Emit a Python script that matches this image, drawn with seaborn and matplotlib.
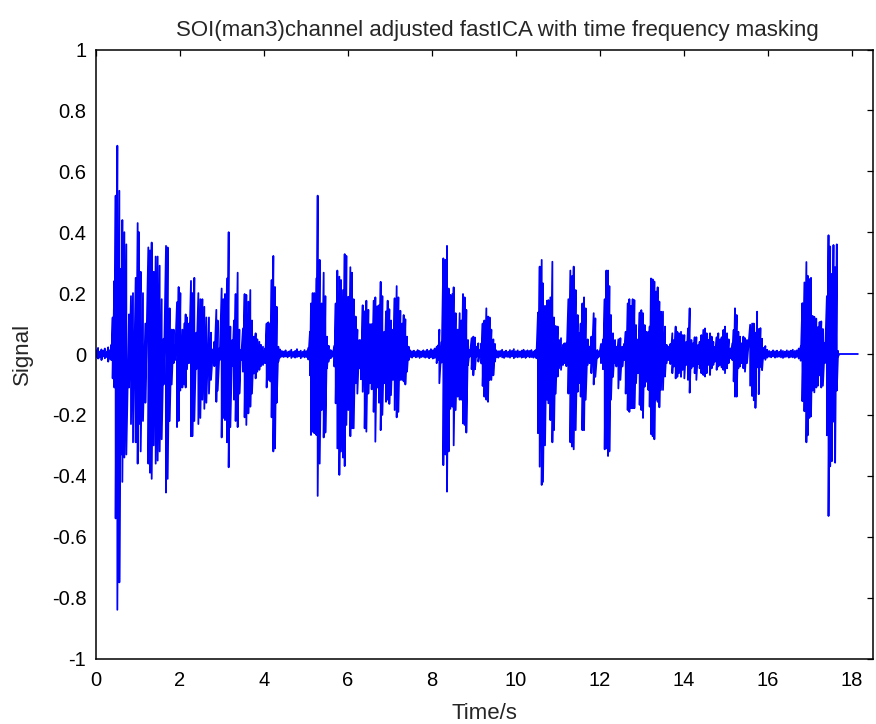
import matplotlib
matplotlib.use("Agg")
import numpy as np
import pandas as pd
import seaborn as sns
import matplotlib.pyplot as plt

# ---------------- data (time in s, signal peaks) ----------------
# quiet start
t_a = [0.010, 0.050, 0.090, 0.130, 0.170, 0.210, 0.250, 0.290, 0.330, 0.365]
hi_a = [0.012, 0.020, 0.008, 0.015, 0.010, 0.018, 0.006, 0.022, 0.012, 0.030]
lo_a = [-0.010, -0.015, -0.012, -0.020, -0.008, -0.014, -0.010, -0.025, -0.015, -0.020]

# burst 1
t_b = [0.397, 0.437, 0.468, 0.508, 0.556, 0.595, 0.627, 0.675, 0.722, 0.786, 0.833, 0.881, 0.945, 0.992,
       1.024, 1.064, 1.119, 1.175, 1.246, 1.286, 1.326, 1.373, 1.421, 1.468, 1.516, 1.564, 1.611, 1.667,
       1.706, 1.754, 1.802, 1.849, 1.881, 1.929, 1.968, 2.008, 2.056, 2.103, 2.135, 2.167, 2.214, 2.262,
       2.294, 2.341, 2.389, 2.437, 2.484, 2.532, 2.579, 2.627, 2.690, 2.738, 2.786, 2.817, 2.865, 2.897,
       2.944, 2.992, 3.032, 3.071, 3.119, 3.159, 3.198, 3.246, 3.286, 3.325, 3.373, 3.413, 3.452, 3.500,
       3.539, 3.579, 3.627, 3.674, 3.714, 3.762, 3.801, 3.841, 3.889, 3.928, 3.976, 4.024, 4.063, 4.103,
       4.151, 4.182, 4.222, 4.262, 4.302, 4.341]
hi_b = [0.12, 0.24, 0.52, 0.684, 0.536, 0.28, 0.44, 0.40, 0.36, 0.13, 0.19, 0.20, 0.25, 0.43,
        0.40, 0.27, 0.20, 0.10, 0.35, 0.34, 0.366, 0.27, 0.32, 0.32, 0.29, 0.18, 0.05, 0.355,
        0.35, 0.15, 0.08, 0.08, 0.03, 0.17, 0.22, 0.20, 0.08, 0.10, 0.13, 0.12, 0.10, 0.24,
        0.20, 0.25, 0.07, 0.20, 0.18, 0.18, 0.155, 0.12, 0.12, 0.07, 0.015, 0.04, 0.145, 0.11,
        0.02, 0.215, 0.18, 0.197, 0.248, 0.40, 0.09, 0.046, 0.11, 0.197, 0.267, 0.08, 0.013, 0.084,
        0.197, 0.194, 0.172, 0.21, 0.11, 0.057, 0.068, 0.048, 0.04, 0.03, 0.024, 0.018, 0.10, 0.104,
        0.10, 0.243, 0.322, 0.22, 0.155, 0.024]
lo_b = [-0.08, -0.11, -0.54, -0.84, -0.75, -0.33, -0.42, -0.34, -0.33, -0.11, -0.23, -0.29, -0.29, -0.36,
        -0.23, -0.32, -0.22, -0.16, -0.36, -0.39, -0.41, -0.30, -0.36, -0.35, -0.32, -0.28, -0.10, -0.455,
        -0.41, -0.22, -0.10, -0.03, -0.02, -0.24, -0.22, -0.12, -0.11, -0.10, -0.11, -0.05, -0.03, -0.27,
        -0.27, -0.22, -0.05, -0.23, -0.21, -0.15, -0.18, -0.16, -0.13, -0.085, -0.015, -0.04, -0.157, -0.12,
        -0.02, -0.274, -0.21, -0.217, -0.29, -0.372, -0.24, -0.04, -0.15, -0.22, -0.24, -0.13, -0.02, -0.058,
        -0.208, -0.233, -0.195, -0.173, -0.13, -0.064, -0.08, -0.058, -0.052, -0.04, -0.036, -0.03, -0.11, -0.085,
        -0.09, -0.208, -0.32, -0.31, -0.16, -0.025]

# quiet 2
t_c = [4.380, 4.425, 4.470, 4.515, 4.560, 4.605, 4.650, 4.695, 4.740, 4.785, 4.830, 4.875, 4.920, 4.965, 5.010, 5.055]
hi_c = [0.015, 0.010, 0.008, 0.012, 0.006, 0.009, 0.014, 0.007, 0.010, 0.016, 0.008, 0.011, 0.007, 0.013, 0.009, 0.020]
lo_c = [-0.012, -0.009, -0.010, -0.008, -0.011, -0.007, -0.013, -0.009, -0.012, -0.010, -0.008, -0.014, -0.009, -0.011, -0.010, -0.018]

# burst 2
t_d = [5.095, 5.119, 5.159, 5.199, 5.246, 5.278, 5.326, 5.373, 5.421, 5.461, 5.500, 5.540, 5.588, 5.627,
       5.675, 5.707, 5.746, 5.794, 5.834, 5.881, 5.921, 5.961, 6.008, 6.056, 6.095, 6.135, 6.183, 6.223,
       6.270, 6.310, 6.350, 6.397, 6.437, 6.484, 6.524, 6.564, 6.611, 6.651, 6.699, 6.738, 6.778, 6.818,
       6.865, 6.905, 6.945, 6.984, 7.024, 7.072, 7.111, 7.159, 7.199, 7.246, 7.286, 7.326, 7.365, 7.405, 7.445]
hi_d = [0.073, 0.166, 0.20, 0.20, 0.248, 0.52, 0.309, 0.166, 0.267, 0.19, 0.057, 0.027, 0.013, 0.008,
        0.027, 0.166, 0.274, 0.254, 0.243, 0.21, 0.328, 0.322, 0.188, 0.285, 0.267, 0.18, 0.123, 0.08,
        0.046, 0.046, 0.16, 0.14, 0.175, 0.145, 0.098, 0.098, 0.175, 0.186, 0.157, 0.16, 0.237, 0.19,
        0.073, 0.14, 0.175, 0.147, 0.11, 0.08, 0.183, 0.223, 0.186, 0.142, 0.10, 0.128, 0.114, 0.057, 0.024]
lo_d = [-0.07, -0.266, -0.255, -0.26, -0.266, -0.466, -0.36, -0.184, -0.274, -0.258, -0.047, -0.025, -0.014, -0.009,
        -0.041, -0.162, -0.31, -0.397, -0.32, -0.34, -0.368, -0.233, -0.184, -0.27, -0.244, -0.244, -0.096, -0.13,
        -0.047, -0.083, -0.124, -0.244, -0.255, -0.13, -0.096, -0.116, -0.19, -0.288, -0.11, -0.16, -0.25, -0.20,
        -0.096, -0.157, -0.15, -0.164, -0.135, -0.085, -0.184, -0.208, -0.19, -0.085, -0.085, -0.09, -0.10, -0.058, -0.02]

# quiet 3
t_e = [7.480, 7.525, 7.570, 7.615, 7.660, 7.705, 7.750, 7.795, 7.840, 7.885, 7.930, 7.975, 8.020, 8.065]
hi_e = [0.012, 0.009, 0.011, 0.007, 0.013, 0.010, 0.008, 0.012, 0.009, 0.014, 0.010, 0.016, 0.012, 0.018]
lo_e = [-0.010, -0.012, -0.008, -0.011, -0.009, -0.013, -0.010, -0.009, -0.012, -0.010, -0.014, -0.011, -0.015, -0.013]

# burst 3
t_f = [8.111, 8.151, 8.175, 8.230, 8.270, 8.294, 8.317, 8.357, 8.397, 8.437, 8.484, 8.516, 8.563, 8.611,
       8.659, 8.698, 8.738, 8.778, 8.817, 8.857, 8.897, 8.944, 8.984, 9.024, 9.063, 9.103, 9.143, 9.175,
       9.206, 9.246, 9.294, 9.333, 9.373, 9.413, 9.460, 9.500]
hi_f = [0.024, 0.029, 0.08, 0.04, 0.314, 0.128, 0.309, 0.355, 0.215, 0.194, 0.197, 0.219, 0.134, 0.08,
        0.134, 0.11, 0.197, 0.186, 0.145, 0.046, 0.013, 0.052, 0.057, 0.054, 0.024, 0.035, 0.013, 0.035,
        0.10, 0.11, 0.15, 0.123, 0.12, 0.08, 0.048, 0.033]
lo_f = [-0.03, -0.02, -0.096, -0.028, -0.365, -0.17, -0.33, -0.452, -0.32, -0.18, -0.173, -0.30, -0.184, -0.14,
        -0.15, -0.15, -0.228, -0.233, -0.258, -0.036, -0.009, -0.05, -0.07, -0.05, -0.009, -0.025, -0.009, -0.031,
        -0.105, -0.14, -0.15, -0.157, -0.085, -0.085, -0.07, -0.025]

# quiet 4
t_g = [9.530, 9.577, 9.623, 9.670, 9.716, 9.763, 9.809, 9.856, 9.902, 9.949, 9.995, 10.042, 10.088,
       10.135, 10.181, 10.228, 10.274, 10.321, 10.367, 10.414, 10.460]
hi_g = [0.012, 0.009, 0.010, 0.014, 0.008, 0.011, 0.007, 0.013, 0.010, 0.016, 0.009, 0.012, 0.008,
        0.011, 0.014, 0.009, 0.012, 0.010, 0.013, 0.008, 0.012]
lo_g = [-0.010, -0.012, -0.008, -0.011, -0.013, -0.009, -0.010, -0.012, -0.008, -0.014, -0.010, -0.011, -0.009,
        -0.012, -0.010, -0.013, -0.008, -0.011, -0.010, -0.012, -0.009]

# burst 4 (long)
t_h = [10.485, 10.524, 10.564, 10.612, 10.643, 10.691, 10.739, 10.770, 10.818, 10.866, 10.905, 10.945,
       10.993, 11.024, 11.072, 11.120, 11.151, 11.199, 11.247, 11.294, 11.334, 11.374, 11.421, 11.469,
       11.500, 11.540, 11.580, 11.620, 11.659, 11.707, 11.754, 11.794, 11.850, 11.889, 11.937, 11.977,
       12.024, 12.072, 12.112, 12.151, 12.191, 12.223, 12.262, 12.310, 12.358, 12.389, 12.437, 12.485,
       12.532, 12.572, 12.612, 12.659, 12.699, 12.739, 12.778, 12.818, 12.858, 12.905,
       12.944, 12.984, 13.024, 13.064, 13.103, 13.151, 13.183, 13.214, 13.254, 13.294, 13.333, 13.373,
       13.413, 13.452, 13.500, 13.548, 13.587, 13.635, 13.675, 13.722, 13.762, 13.802, 13.841, 13.881,
       13.929, 13.968, 14.008, 14.056, 14.095, 14.135, 14.175, 14.214, 14.254, 14.294, 14.341, 14.373,
       14.413, 14.460, 14.500, 14.540, 14.579, 14.619, 14.659, 14.698, 14.738, 14.778, 14.817, 14.857,
       14.897, 14.937, 14.976, 15.024, 15.064, 15.103, 15.151, 15.183, 15.214, 15.254, 15.294, 15.333,
       15.373, 15.413, 15.452, 15.500, 15.575, 15.622, 15.662, 15.701, 15.741, 15.780, 15.819, 15.859,
       15.898, 15.937]
hi_h = [0.013, 0.136, 0.287, 0.309, 0.232, 0.158, 0.175, 0.177, 0.186, 0.303, 0.12, 0.092,
        0.09, 0.046, 0.052, 0.03, 0.035, 0.037, 0.18, 0.274, 0.256, 0.287, 0.21, 0.128,
        0.068, 0.10, 0.166, 0.186, 0.15, 0.048, 0.024, 0.057, 0.134, 0.117, 0.013, 0.008,
        0.033, 0.048, 0.18, 0.274, 0.274, 0.223, 0.128, 0.068, 0.046, 0.024, 0.048, 0.052,
        0.024, 0.033, 0.073, 0.166, 0.18, 0.158, 0.18, 0.177, 0.095, 0.048,
        0.136, 0.144, 0.134, 0.095, 0.073, 0.073, 0.09, 0.248, 0.245, 0.238, 0.205, 0.219,
        0.172, 0.139, 0.139, 0.09, 0.03, 0.024, 0.033, 0.068, 0.046, 0.09, 0.073, 0.068,
        0.073, 0.062, 0.062, 0.04, 0.084, 0.15, 0.046, 0.035, 0.055, 0.055, 0.03, 0.04,
        0.062, 0.079, 0.084, 0.068, 0.046, 0.068, 0.057, 0.04, 0.024, 0.055, 0.068, 0.048,
        0.055, 0.079, 0.09, 0.068, 0.048, 0.018, 0.035, 0.079, 0.15, 0.128, 0.073, 0.057,
        0.035, 0.057, 0.052, 0.046, 0.096, 0.10, 0.10, 0.07, 0.139, 0.082, 0.085, 0.05,
        0.02, 0.026]
lo_h = [-0.014, -0.26, -0.37, -0.43, -0.42, -0.30, -0.15, -0.162, -0.217, -0.29, -0.25, -0.13,
        -0.074, -0.047, -0.052, -0.036, -0.03, -0.04, -0.13, -0.29, -0.304, -0.313, -0.25, -0.124,
        -0.096, -0.14, -0.25, -0.25, -0.15, -0.036, -0.03, -0.063, -0.10, -0.075, -0.014, -0.009,
        -0.03, -0.05, -0.313, -0.31, -0.335, -0.32, -0.15, -0.075, -0.03, -0.041, -0.113, -0.085,
        -0.041, -0.02, -0.13, -0.184, -0.19, -0.178, -0.178, -0.178, -0.096, -0.063,
        -0.167, -0.184, -0.21, -0.107, -0.091, -0.118, -0.173, -0.263, -0.27, -0.28, -0.15, -0.157,
        -0.175, -0.118, -0.118, -0.074, -0.03, -0.02, -0.033, -0.063, -0.041, -0.08, -0.075, -0.063,
        -0.075, -0.052, -0.08, -0.036, -0.085, -0.127, -0.047, -0.041, -0.063, -0.085, -0.033, -0.047,
        -0.063, -0.069, -0.074, -0.063, -0.036, -0.069, -0.047, -0.036, -0.025, -0.052, -0.041, -0.036,
        -0.044, -0.052, -0.063, -0.047, -0.03, -0.014, -0.02, -0.09, -0.14, -0.14, -0.047, -0.041,
        -0.03, -0.047, -0.058, -0.03, -0.104, -0.138, -0.152, -0.177, -0.044, -0.132, -0.042, -0.053,
        -0.014, -0.019]

# quiet 5
t_i = [15.980, 16.027, 16.074, 16.121, 16.168, 16.215, 16.262, 16.309, 16.356, 16.403, 16.450, 16.497,
       16.544, 16.591, 16.638, 16.685, 16.732, 16.779]
hi_i = [0.014, 0.010, 0.008, 0.012, 0.009, 0.011, 0.007, 0.013, 0.010, 0.008, 0.012, 0.009,
        0.011, 0.014, 0.010, 0.012, 0.018, 0.025]
lo_i = [-0.012, -0.009, -0.011, -0.008, -0.012, -0.010, -0.009, -0.011, -0.013, -0.010, -0.009, -0.012,
        -0.010, -0.011, -0.013, -0.010, -0.015, -0.022]

# burst 5
t_j = [16.819, 16.867, 16.914, 16.945, 16.985, 17.024, 17.063, 17.103, 17.150, 17.189, 17.229, 17.268,
       17.307, 17.354, 17.402, 17.441, 17.480, 17.520, 17.559, 17.598, 17.638, 17.669]
hi_j = [0.167, 0.235, 0.302, 0.257, 0.246, 0.25, 0.125, 0.122, 0.116, 0.088, 0.105, 0.107,
        0.082, 0.037, 0.19, 0.39, 0.353, 0.263, 0.358, 0.285, 0.36, 0.01]
lo_j = [-0.155, -0.188, -0.29, -0.267, -0.21, -0.205, -0.12, -0.126, -0.11, -0.104, -0.07, -0.11,
        -0.104, -0.03, -0.267, -0.532, -0.369, -0.352, -0.222, -0.357, -0.12, -0.008]

# flat tail
t_k = [17.700, 18.140]
v_k = [0.0, 0.0]

title_text = "SOI(man3)channel adjusted fastICA with time frequency masking"
x_ticks = [0, 2, 4, 6, 8, 10, 12, 14, 16, 18]
y_ticks = [-1, -0.8, -0.6, -0.4, -0.2, 0, 0.2, 0.4, 0.6, 0.8, 1]
y_tick_labels = ["-1", "-0.8", "-0.6", "-0.4", "-0.2", "0", "0.2", "0.4", "0.6", "0.8", "1"]

# ---------------- build the waveform ----------------
ts, vs = [], []
for tt, hh, ll in [(t_a, hi_a, lo_a), (t_b, hi_b, lo_b), (t_c, hi_c, lo_c), (t_d, hi_d, lo_d),
                   (t_e, hi_e, lo_e), (t_f, hi_f, lo_f), (t_g, hi_g, lo_g), (t_h, hi_h, lo_h),
                   (t_i, hi_i, lo_i), (t_j, hi_j, lo_j)]:
    for t0, h0, l0 in zip(tt, hh, ll):
        ts += [t0, t0]
        vs += [h0, l0]
ts += t_k
vs += v_k
df = pd.DataFrame({"Time": ts, "Signal": vs})

# ---------------- plot ----------------
sns.set_theme(style="white")
plt.rcParams["font.family"] = ["Liberation Sans", "DejaVu Sans"]
plt.rcParams["axes.unicode_minus"] = False

fig = plt.figure(figsize=(8.76, 7.24), dpi=100)
ax = fig.add_axes([96 / 876, 65.5 / 724, 777 / 876, 609 / 724])

sns.lineplot(data=df, x="Time", y="Signal", estimator=None, sort=False,
             color="#0000ff", linewidth=1.3, ax=ax)

ax.set_xlim(0, 18.5)
ax.set_ylim(-1, 1)
ax.set_xticks(x_ticks)
ax.set_xticklabels([str(v) for v in x_ticks])
ax.set_yticks(y_ticks)
ax.set_yticklabels(y_tick_labels)

for s in ax.spines.values():
    s.set_visible(True)
    s.set_color("black")
    s.set_linewidth(1.1)

ax.tick_params(axis="both", which="major", direction="in", length=4, width=0.9,
               colors="black", labelsize=14.5, top=True, right=True,
               labeltop=False, labelright=False)
ax.tick_params(axis="x", pad=9)
ax.tick_params(axis="y", pad=7)

ax.set_xlabel("Time/s", fontsize=16, va="center")
ax.xaxis.set_label_coords(0.5, -0.09)
ax.set_ylabel("Signal", fontsize=16, va="center", ha="center")
ax.yaxis.set_label_coords(-0.094, 0.5)
ax.set_title(title_text, fontsize=16, pad=10)
ax.title.set_x(0.516)
ax.grid(False)

fig.savefig("out.png", dpi=100, facecolor="white")
